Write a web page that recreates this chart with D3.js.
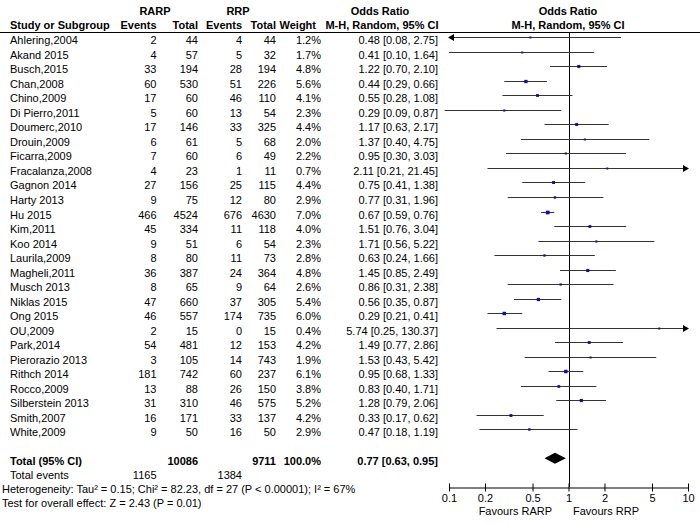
<!DOCTYPE html>
<html><head><meta charset="utf-8">
<script src="https://cdn.jsdelivr.net/npm/d3@7"></script>
<style>
body{margin:0;background:#fff;}
svg text{font-family:"Liberation Sans",Arial,sans-serif;font-size:11px;fill:#000;}
</style></head>
<body><svg id="c" width="700" height="524"></svg>
<script>
const studies = ["Ahlering,2004","Akand 2015","Busch,2015","Chan,2008","Chino,2009","Di Pierro,2011","Doumerc,2010","Drouin,2009","Ficarra,2009","Fracalanza,2008","Gagnon 2014","Harty 2013","Hu 2015","Kim,2011","Koo 2014","Laurila,2009","Magheli,2011","Musch 2013","Niklas 2015","Ong 2015","OU,2009","Park,2014","Pierorazio 2013","Rithch 2014","Rocco,2009","Silberstein 2013","Smith,2007","White,2009"];
const rarpEvents = [2,4,33,60,17,5,17,6,7,4,27,9,466,45,9,8,36,8,47,46,2,54,3,181,13,31,16,9];
const rarpTotal  = [44,57,194,530,60,60,146,61,60,23,156,75,4524,334,51,80,387,65,660,557,15,481,105,742,88,310,171,50];
const rrpEvents  = [4,5,28,51,46,13,33,5,6,1,25,12,676,11,6,11,24,9,37,174,0,12,14,60,26,46,33,16];
const rrpTotal   = [44,32,194,226,110,54,325,68,49,11,115,80,4630,118,54,73,364,64,305,735,15,153,743,237,150,575,137,50];
const weights    = [1.2,1.7,4.8,5.6,4.1,2.3,4.4,2.0,2.2,0.7,4.4,2.9,7.0,4.0,2.3,2.8,4.8,2.6,5.4,6.0,0.4,4.2,1.9,6.1,3.8,5.2,4.2,2.9];
const oddsRatio  = [0.48,0.41,1.22,0.44,0.55,0.29,1.17,1.37,0.95,2.11,0.75,0.77,0.67,1.51,1.71,0.63,1.45,0.86,0.56,0.29,5.74,1.49,1.53,0.95,0.83,1.28,0.33,0.47];
const ciLow      = [0.08,0.10,0.70,0.29,0.28,0.09,0.63,0.40,0.30,0.21,0.41,0.31,0.59,0.76,0.56,0.24,0.85,0.31,0.35,0.21,0.25,0.77,0.43,0.68,0.40,0.79,0.17,0.18];
const ciHigh     = [2.75,1.64,2.10,0.66,1.08,0.87,2.17,4.75,3.03,21.45,1.38,1.96,0.76,3.04,5.22,1.66,2.49,2.38,0.87,0.41,130.37,2.86,5.42,1.33,1.71,2.06,0.62,1.19];
const total = {label:"Total (95% CI)", rarpTotal:10086, rrpTotal:9711, weight:"100.0%", or:0.77, lo:0.63, hi:0.95, rarpEvents:1165, rrpEvents:1384};
const tickValues = [0.1,0.2,0.5,1,2,5,10];
const heterogeneity = "Heterogeneity: Tau² = 0.15; Chi² = 82.23, df = 27 (P < 0.00001); I² = 67%";
const overall = "Test for overall effect: Z = 2.43 (P = 0.01)";

const svg = d3.select("#c");
const x = d3.scaleLog().domain([0.1,10]).range([449,688]);
const y = d3.scaleLinear().domain([0,27]).range([37.3,429.3]);
const f2 = d3.format(".2f");
const ciText = (o,l,h)=>`${f2(o)} [${f2(l)}, ${f2(h)}]`;
const colR = {re:156.5, rt:198, pe:242, pt:276, w:321, or:438};

function txt(xp, yp, s, anchor, bold){
  return svg.append("text").attr("x",xp).attr("y",yp).attr("text-anchor",anchor||"start")
    .style("font-weight",bold?"bold":"normal").text(s);
}
// headers
txt(155,15,"RARP","middle",true);
txt(238,15,"RRP","middle",true);
txt(380,15,"Odds Ratio","middle",true);
txt(568,15,"Odds Ratio","middle",true);
txt(10,29,"Study or Subgroup","start",true);
txt(colR.re,29,"Events","end",true);
txt(colR.rt,29,"Total","end",true);
txt(colR.pe,29,"Events","end",true);
txt(colR.pt,29,"Total","end",true);
txt(316,29,"Weight","end",true);
txt(382,29,"M-H, Random, 95% CI","middle",true);
txt(568,29,"M-H, Random, 95% CI","middle",true);
svg.append("line").attr("x1",0).attr("x2",700).attr("y1",32.5).attr("y2",32.5).attr("stroke","#000").attr("stroke-width",1);

// reference line at OR = 1
svg.append("line").attr("x1",Math.round(x(1))+0.5).attr("x2",Math.round(x(1))+0.5).attr("y1",33).attr("y2",487).attr("stroke","#000");

const rows = svg.append("g");
studies.forEach((s,i)=>{
  const yy = y(i), tb = yy+7;
  txt(10,tb,s);
  txt(colR.re,tb,rarpEvents[i],"end");
  txt(colR.rt,tb,rarpTotal[i],"end");
  txt(colR.pe,tb,rrpEvents[i],"end");
  txt(colR.pt,tb,rrpTotal[i],"end");
  txt(colR.w,tb,d3.format(".1f")(weights[i])+"%","end");
  txt(colR.or,tb,ciText(oddsRatio[i],ciLow[i],ciHigh[i]),"end");
  const lo = ciLow[i], hi = ciHigh[i];
  const leftArrow = lo < 0.085, rightArrow = hi > 10;
  const x1 = leftArrow ? x(0.1) : x(Math.max(lo,0.092));
  const x2 = rightArrow ? x(10) : x(hi);
  const ly = Math.round(yy)+0.5;
  rows.append("line").attr("x1",x1).attr("x2",x2).attr("y1",ly).attr("y2",ly).attr("stroke","#333").attr("stroke-width",1);
  if(leftArrow){
    rows.append("path").attr("d",`M${x1-1},${ly} l6,-3.5 l0,7 z`).attr("fill","#000");
  }
  if(rightArrow){
    rows.append("path").attr("d",`M${x2+1},${ly} l-6,-3.5 l0,7 z`).attr("fill","#000");
  }
  const sz = Math.max(2, Math.sqrt(weights[i])*1.4);
  rows.append("rect").attr("x",x(oddsRatio[i])-sz/2).attr("y",ly-sz/2).attr("width",sz).attr("height",sz).attr("fill","#1010a0");
});

// total row
const ty = 458.3, tb = 465;
txt(10,tb,total.label,"start",true);
txt(colR.rt,tb,total.rarpTotal,"end",true);
txt(colR.pt,tb,total.rrpTotal,"end",true);
txt(colR.w,tb,total.weight,"end",true);
txt(colR.or,tb,ciText(total.or,total.lo,total.hi),"end",true);
svg.append("path").attr("d",`M${x(total.lo)},${ty} L${x(total.or)},${ty-5.5} L${x(total.hi)},${ty} L${x(total.or)},${ty+5.5} Z`).attr("fill","#000");
txt(10,479,"Total events");
txt(colR.re,479,total.rarpEvents,"end");
txt(colR.pe,479,total.rrpEvents,"end");
txt(2,493,heterogeneity);
txt(2,507,overall);

// axis
const ax = svg.append("g").attr("transform","translate(0,487.5)")
  .call(d3.axisBottom(x).tickValues(tickValues).tickFormat(d=>String(d)).tickSizeOuter(0).tickSizeInner(4).tickPadding(2.5));
ax.select(".domain").attr("stroke","#000");
ax.selectAll(".tick line").attr("y1",-4).attr("y2",4).attr("stroke","#000");
ax.selectAll(".tick text").style("font-family","Liberation Sans, Arial, sans-serif").style("font-size","11px").attr("fill","#000");
txt(552,514.5,"Favours RARP","end");
txt(573,514.5,"Favours RRP","start");
</script></body></html>
